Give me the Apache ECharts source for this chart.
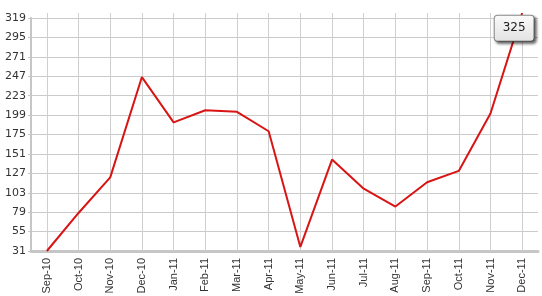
<!DOCTYPE html>
<html>
<head>
<meta charset="utf-8">
<script src="https://cdn.jsdelivr.net/npm/echarts@6/dist/echarts.min.js"></script>
<style>
html,body{margin:0;padding:0;background:#fff;}
#c{width:542px;height:296px;}
</style>
</head>
<body>
<div id="c"></div>
<script>
var categories = ['Sep-10','Oct-10','Nov-10','Dec-10','Jan-11','Feb-11','Mar-11','Apr-11','May-11','Jun-11','Jul-11','Aug-11','Sep-11','Oct-11','Nov-11','Dec-11'];
var values = [31, 78, 122, 246, 190, 205, 203, 179, 36, 144, 108, 86, 116, 130, 201, 325];
var yMin = 31;
var yMax = 319;
var yStep = 24;

var chart = echarts.init(document.getElementById('c'), null, {renderer: 'canvas'});
var lastIdx = values.length - 1;
var seriesData = values.map(function (v, i) {
  if (i === lastIdx) {
    return {
      value: v,
      label: {
        show: true,
        position: 'inside',
        offset: [-8, 15],
        formatter: '{c}',
        color: '#222',
        fontFamily: 'DejaVu Sans',
        fontSize: 12,
        padding: [7, 8, 6, 8],
        backgroundColor: {
          type: 'linear', x: 0, y: 0, x2: 0, y2: 1,
          colorStops: [{offset: 0, color: '#fbfbfb'}, {offset: 1, color: '#e2e2e2'}]
        },
        borderColor: '#8a8a8a',
        borderWidth: 1,
        borderRadius: 3,
        shadowColor: 'rgba(0,0,0,0.55)',
        shadowBlur: 3,
        shadowOffsetX: 2,
        shadowOffsetY: 2
      }
    };
  }
  return v;
});

chart.setOption({
  animation: false,
  grid: {left: 31, right: 4, top: 18, bottom: 45, containLabel: false, outerBoundsMode: 'none'},
  xAxis: {
    type: 'category',
    data: categories,
    boundaryGap: true,
    axisLine: {show: true, lineStyle: {color: '#c6c6c6', width: 3}},
    axisTick: {show: true, alignWithLabel: true, inside: true, length: 238, lineStyle: {color: '#cfcfcf', width: 1}},
    splitLine: {show: false},
    axisLabel: {rotate: 90, interval: 0, color: '#333', fontFamily: 'Liberation Sans', fontSize: 11, margin: 7}
  },
  yAxis: {
    type: 'value',
    min: yMin,
    max: yMax,
    interval: yStep,
    axisLine: {show: true, lineStyle: {color: '#c6c6c6', width: 2}},
    axisTick: {show: true, length: 3, lineStyle: {color: '#c6c6c6'}},
    splitLine: {show: true, lineStyle: {color: '#cbcbcb', width: 1}},
    axisLabel: {color: '#333', fontFamily: 'DejaVu Sans', fontSize: 11, margin: 5}
  },
  series: [{
    type: 'line',
    data: seriesData,
    clip: false,
    showSymbol: true,
    symbol: 'circle',
    symbolSize: 0,
    itemStyle: {color: '#d81414'},
    lineStyle: {color: '#d81414', width: 2},
    z: 5
  }]
});
</script>
</body>
</html>
